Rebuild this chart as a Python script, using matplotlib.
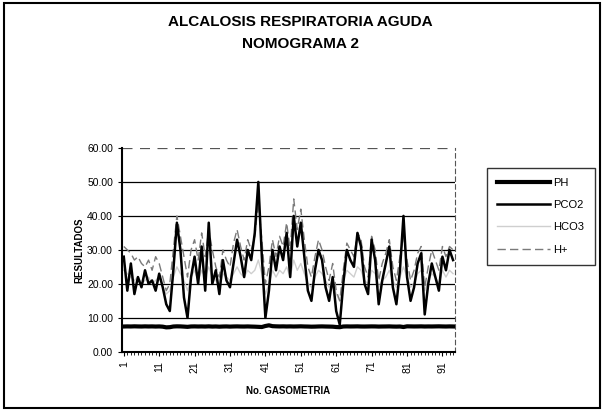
import numpy as np
import matplotlib
matplotlib.use('Agg')
import matplotlib.pyplot as plt
from matplotlib.patches import Rectangle

plt.rcParams['font.family'] = ['Liberation Sans', 'DejaVu Sans']

# ---------------------------------------------------------------------------
# data
ph = [7.45, 7.48, 7.46, 7.50, 7.47, 7.45, 7.49, 7.46, 7.48, 7.44,
      7.47, 7.40, 7.20, 7.25, 7.45, 7.50, 7.48, 7.42, 7.35, 7.46,
      7.48, 7.45, 7.47, 7.44, 7.49, 7.43, 7.46, 7.40, 7.45, 7.47,
      7.42, 7.46, 7.48, 7.45, 7.44, 7.47, 7.43, 7.40, 7.35, 7.30,
      7.60, 7.80, 7.55, 7.50, 7.47, 7.49, 7.46, 7.48, 7.45, 7.47,
      7.50, 7.46, 7.44, 7.40, 7.42, 7.46, 7.48, 7.45, 7.43, 7.40,
      7.30, 7.25, 7.45, 7.48, 7.46, 7.47, 7.49, 7.45, 7.44, 7.46,
      7.48, 7.47, 7.43, 7.45, 7.46, 7.48, 7.44, 7.42, 7.45, 7.30,
      7.50, 7.48, 7.46, 7.47, 7.49, 7.45, 7.47, 7.46, 7.48, 7.50,
      7.47, 7.45, 7.48, 7.46]

pco2 = [28, 18, 26, 17, 22, 19, 24, 20, 21, 18,
        23, 19, 14, 12, 24, 38, 30, 16, 10, 22,
        28, 20, 31, 18, 38, 20, 24, 17, 27, 21,
        19, 26, 33, 28, 22, 30, 27, 35, 50, 28,
        10, 18, 30, 24, 31, 27, 35, 22, 40, 31,
        38, 28, 18, 15, 24, 30, 27, 19, 15, 22,
        12, 8, 20, 30, 27, 25, 35, 31, 20, 17,
        33, 27, 14, 21, 26, 31, 19, 14, 24, 40,
        22, 15, 19, 26, 29, 11, 20, 26, 22, 18,
        28, 24, 30, 27]

hco3 = [24, 23, 22, 21, 22, 20, 21, 22, 20, 21,
        22, 19, 17, 18, 22, 25, 23, 21, 18, 22,
        24, 21, 24, 22, 25, 22, 21, 19, 23, 22,
        21, 23, 25, 23, 22, 24, 23, 24, 27, 23,
        17, 20, 24, 22, 24, 23, 25, 22, 27, 24,
        26, 23, 20, 19, 22, 24, 23, 21, 19, 21,
        17, 15, 21, 24, 23, 22, 25, 24, 21, 20,
        24, 23, 19, 21, 22, 24, 21, 19, 22, 25,
        22, 19, 20, 23, 24, 18, 21, 23, 22, 20,
        24, 22, 24, 23]

hplus = [31, 30, 29, 27, 28, 26, 25, 27, 24, 28,
         26, 22, 18, 20, 30, 40, 34, 28, 22, 30,
         33, 27, 35, 28, 36, 30, 25, 22, 30, 27,
         25, 32, 36, 31, 27, 33, 30, 34, 44, 33,
         20, 25, 33, 28, 34, 31, 38, 30, 45, 36,
         42, 33, 25, 22, 28, 33, 30, 25, 21, 26,
         18, 15, 24, 32, 30, 28, 35, 33, 25, 22,
         34, 30, 21, 26, 29, 33, 25, 21, 28, 34,
         27, 21, 24, 29, 31, 19, 25, 30, 27, 24,
         31, 28, 31, 30]

series_names = ['PH', 'PCO2', 'HCO3', 'H+']
title = 'ALCALOSIS RESPIRATORIA AGUDA\nNOMOGRAMA 2'
x = np.arange(1, len(pco2) + 1)

# ---------------------------------------------------------------------------
fig = plt.figure(figsize=(6.04, 4.11), dpi=100)
ax = fig.add_axes([0.202, 0.144, 0.551, 0.496])

ax.plot(x, hco3, color='#cfcfcf', lw=1.0, label='HCO3', zorder=2)
ax.plot(x, hplus, color='#7a7a7a', lw=1.0, ls=(0, (6, 3)), label='H+', zorder=3)
ax.plot(x, pco2, color='black', lw=1.8, label='PCO2', zorder=4)
ax.plot(x, ph, color='black', lw=3.0, label='PH', zorder=5)

ax.set_xlim(0.5, len(x) + 0.5)
ax.set_ylim(0, 60)
ax.set_yticks(np.arange(0, 61, 10))
ax.yaxis.set_major_formatter(matplotlib.ticker.FormatStrFormatter('%.2f'))
ax.set_xticks(np.arange(1, len(x) + 1, 10))
ax.set_xticks(x, minor=True)
ax.tick_params(axis='x', labelrotation=90, labelsize=7.5, length=3, direction='out')
ax.tick_params(axis='x', which='minor', length=2, direction='out')
ax.tick_params(axis='y', labelsize=7.5, length=3, direction='out')

for v in range(10, 60, 10):
    ax.axhline(v, color='black', lw=0.9, zorder=1)
ax.axhline(60, color='#555555', lw=0.9, ls=(0, (8, 6)), zorder=1)

ax.spines['top'].set_visible(False)
ax.spines['right'].set_linestyle((0, (4, 3)))
ax.spines['right'].set_color('#555555')
ax.spines['left'].set_linewidth(1.5)
ax.spines['bottom'].set_linewidth(1.5)

ax.set_xlabel('No. GASOMETRIA', fontsize=7, fontweight='bold', labelpad=10)
ax.set_ylabel('RESULTADOS', fontsize=7, fontweight='bold', labelpad=2)

fig.text(0.497, 0.92, title, ha='center', va='center', fontsize=11,
         fontweight='bold', linespacing=1.75)

handles, labels = ax.get_legend_handles_labels()
order = [labels.index(n) for n in series_names]
leg = fig.legend([handles[i] for i in order], [labels[i] for i in order],
                 loc='upper left', bbox_to_anchor=(0.797, 0.605),
                 frameon=True, fancybox=False, fontsize=8,
                 handlelength=4.8, labelspacing=1.1, borderpad=0.9,
                 handletextpad=0.3)
leg.get_frame().set_edgecolor('black')
leg.get_frame().set_linewidth(1.0)

fig.patches.append(Rectangle((0.006, 0.008), 0.988, 0.984, transform=fig.transFigure,
                             fill=False, edgecolor='black', lw=1.5))

fig.savefig('out.png', dpi=100)
